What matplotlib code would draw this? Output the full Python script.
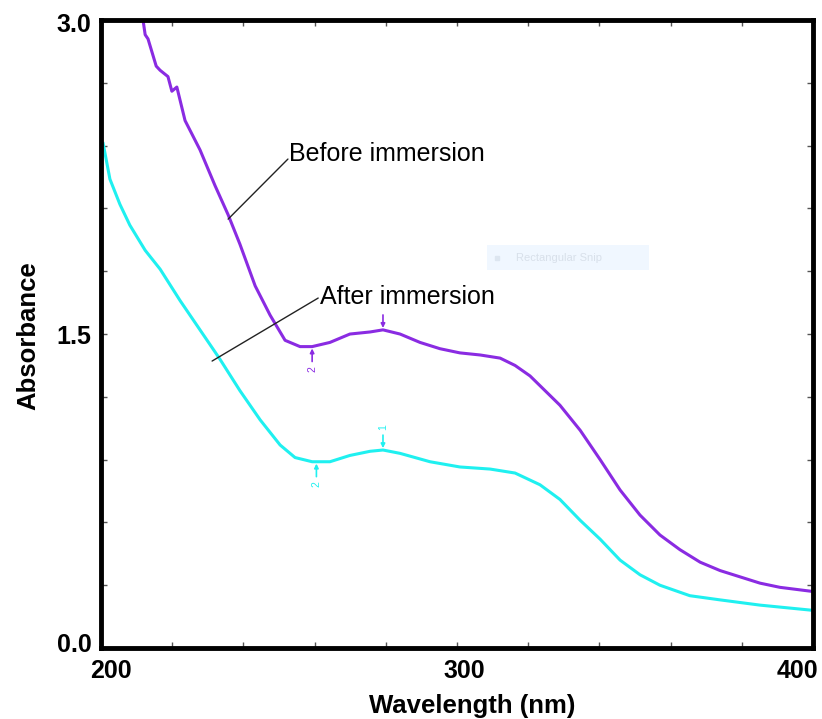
import matplotlib.pyplot as plt
import matplotlib.patches as patches
from matplotlib.transforms import ScaledTranslation

# UV-vis absorbance spectra (nm, absorbance)
before_nm = [211.8, 212.4, 213.2, 215.5, 216.6, 218.8, 219.9, 221.3, 223.6, 227.8, 232.0,
             235.7, 239.0, 243.3, 247.5, 251.7, 255.9, 259.3, 264.3, 269.9, 275.6, 279.2,
             284.0, 289.6, 295.2, 300.8, 306.5, 312.1, 316.3, 320.5, 324.7, 328.9, 334.6,
             340.2, 345.8, 351.4, 357.0, 362.6, 368.3, 373.9, 379.5, 385.1, 390.7, 400.0]
before_abs = [3.00, 2.93, 2.91, 2.78, 2.76, 2.73, 2.66, 2.68, 2.52, 2.38, 2.21,
              2.07, 1.93, 1.73, 1.59, 1.47, 1.44, 1.44, 1.46, 1.50, 1.51, 1.52,
              1.50, 1.46, 1.43, 1.41, 1.40, 1.385, 1.35, 1.30, 1.23, 1.16, 1.04,
              0.90, 0.755, 0.635, 0.54, 0.47, 0.41, 0.37, 0.34, 0.31, 0.29, 0.27]

after_nm = [200.6, 202.5, 205.3, 208.1, 212.4, 216.6, 222.2, 227.8, 233.4, 239.0, 244.7,
            250.3, 254.5, 259.3, 264.3, 269.9, 275.6, 279.2, 284.0, 292.4, 300.8, 309.3,
            316.3, 323.3, 328.9, 334.6, 340.2, 345.8, 351.4, 357.0, 365.4, 373.9, 385.1, 400.0]
after_abs = [2.41, 2.24, 2.12, 2.02, 1.90, 1.81, 1.66, 1.52, 1.38, 1.23, 1.09,
             0.97, 0.91, 0.89, 0.89, 0.92, 0.94, 0.946, 0.93, 0.89, 0.865, 0.855,
             0.836, 0.78, 0.71, 0.61, 0.52, 0.42, 0.35, 0.30, 0.25, 0.23, 0.205, 0.18]

# picked peaks: (wavelength, absorbance)
before_peaks = [(279.2, 1.52), (259.3, 1.44)]
after_peaks = [(279.2, 0.946), (260.5, 0.89)]

x_ticks = [200, 300, 400]
y_ticks = [0.0, 1.5, 3.0]

purple = '#8a2be2'
cyan = '#1ff0f0'
font = 'Liberation Sans'

fig = plt.figure(figsize=(8.22, 7.19), dpi=100)
ax = fig.add_axes([0.1229, 0.0987, 0.8662, 0.8734])

ax.plot(before_nm, before_abs, color=purple, lw=2.2, solid_joinstyle='round')
ax.plot(after_nm, after_abs, color=cyan, lw=2.2, solid_joinstyle='round')


def mark_peak(x, y, label, color, up, show_label=True):
    # small arrow pointing at the peak, number beyond its tail
    off = 0.075 if up else -0.075
    ax.annotate('', xy=(x, y + off * 0.12), xytext=(x, y + off * 0.95),
                arrowprops=dict(arrowstyle='-|>', color=color, lw=1.2,
                                mutation_scale=6, shrinkA=0, shrinkB=0))
    if show_label:
        ax.text(x, y + off * 1.45, label, color=color, fontsize=7.5,
                rotation=90, ha='center', va='center', family=font)


mark_peak(*before_peaks[0], '1', purple, True, show_label=False)
mark_peak(*before_peaks[1], '2', purple, False)
mark_peak(*after_peaks[0], '1', cyan, True)
mark_peak(*after_peaks[1], '2', cyan, False)

# curve labels with leader lines
leader = dict(arrowstyle='-', color='#222222', lw=1.0, shrinkA=0, shrinkB=0)
ax.annotate('', xy=(235.7, 2.049), xytext=(252.5, 2.336), arrowprops=leader)
ax.text(252.8, 2.327, 'Before immersion', fontsize=18, family=font, va='baseline')
ax.annotate('', xy=(231.2, 1.371), xytext=(261.0, 1.672), arrowprops=leader)
ax.text(261.5, 1.644, 'After immersion', fontsize=18, family=font, va='baseline')

# faint leftover snipping-tool tooltip
snip = patches.Rectangle((308.5, 1.805), 45.5, 0.12, facecolor='#eef6ff',
                         edgecolor='none', alpha=0.85)
ax.add_patch(snip)
ax.plot([311.2], [1.865], 's', ms=3, color='#dde6f0')
ax.text(316.5, 1.863, 'Rectangular Snip', fontsize=8, color='#d8e0ea',
        va='center', family=font)

ax.set_xlim(200, 400)
ax.set_ylim(0, 3.0)
ax.set_xticks(x_ticks)
ax.set_yticks(y_ticks)
ax.set_xticks(range(200, 401, 20), minor=True)
ax.set_yticks([i * 0.3 for i in range(11)], minor=True)
ax.set_xticklabels([str(v) for v in x_ticks])
ax.set_yticklabels(['%.1f' % v for v in y_ticks])

ax.tick_params(which='both', direction='in', length=4, width=1,
               color='#555555', top=True, right=True)
ax.tick_params(axis='x', which='major', labelsize=18, pad=8)
ax.tick_params(axis='y', which='major', labelsize=18, pad=7)
for lbl in ax.get_xticklabels() + ax.get_yticklabels():
    lbl.set_fontweight('bold')
    lbl.set_family(font)

# nudge x tick labels: first two sit right of their ticks, last one kept inside
shifts = [10, 7, -16]
for lbl, dx in zip(ax.get_xticklabels(), shifts):
    lbl.set_transform(lbl.get_transform() + ScaledTranslation(dx / 100, 0, fig.dpi_scale_trans))
ylbls = ax.get_yticklabels()
ylbls[0].set_transform(ylbls[0].get_transform() + ScaledTranslation(0, 6 / 100, fig.dpi_scale_trans))
ylbls[2].set_transform(ylbls[2].get_transform() + ScaledTranslation(0, -2 / 100, fig.dpi_scale_trans))

for s in ax.spines.values():
    s.set_linewidth(3.5)

ax.set_xlabel('Wavelength (nm)', fontsize=18.5, fontweight='bold', family=font, va='center')
ax.set_ylabel('Absorbance', fontsize=18.5, fontweight='bold', family=font, va='center')
ax.xaxis.set_label_coords(0.521, -0.092)
ax.yaxis.set_label_coords(-0.1025, 0.497)

fig.savefig('out.png', dpi=100)
